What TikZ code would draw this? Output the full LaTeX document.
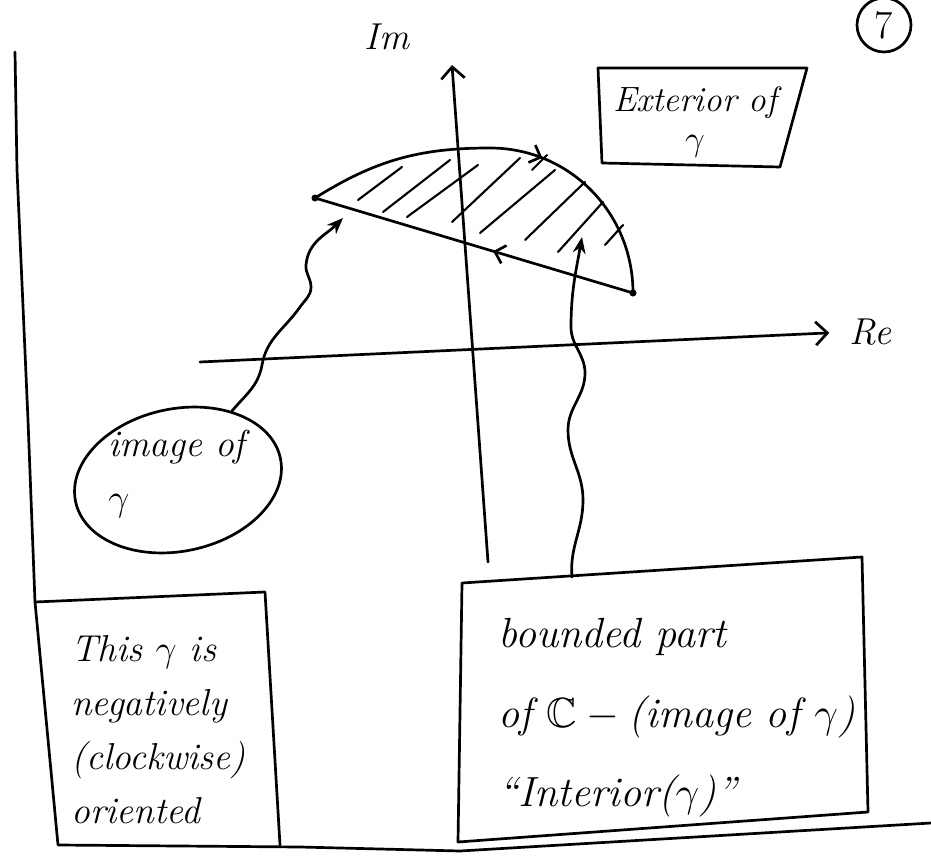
\RequirePackage{fix-cm}
\documentclass[tikz,border=0pt]{standalone}
\usepackage{amssymb}
\usetikzlibrary{arrows.meta, decorations.markings, shapes.geometric}

\begin{document}
\begin{tikzpicture}[x=0.03cm, y=0.03cm, line width=2.3pt, line cap=round, line join=round,
    note/.style={font=\fontsize{32}{46}\selectfont\itshape, align=left, inner sep=0pt},
    axis/.style={-{Straight Barb[length=10pt,width=20pt]}},
    wavy/.style={-{Stealth[length=14pt,width=11pt]}},
    hatch/.style={line width=1.8pt},
    midarrow/.style={postaction={decorate}, decoration={markings,
      mark=at position #1 with {\arrow{Straight Barb[length=8pt,width=16pt]}}}}]
  \useasboundingbox (0,0) rectangle (931,857);
  % frame
  \draw (15,805) -- (17,687) -- (28,437) -- (35,255) -- (58,12)
    -- (300,10) -- (460,6) -- (931,34);
  \node[draw, circle, minimum size=1.62cm, inner sep=0pt,
    font=\fontsize{34}{34}\selectfont] (pg) at (884,832) {7};
  % axes
  \node[note] (imlab) at (387,820) {Im};
  \node[note, anchor=west] (relab) at (848,525) {Re};
  \draw[axis] (488,295) -- (452,792);
  \draw[axis, shorten >=16pt] (200,495) -- (relab.west);
  % the curve gamma
  \coordinate (ptA) at (315,659);
  \coordinate (ptB) at (633,564);
  \draw[midarrow=0.58] (ptA) to[out=32,in=180] (490,709) to[out=0,in=90] (ptB);
  \draw[midarrow=0.44] (ptB) -- (ptA);
  \fill (ptA) circle (3pt);
  \fill (ptB) circle (3pt);
  \foreach \xa/\ya/\xb/\yb in {358/657/402/690, 383/645/450/697, 407/640/478/692,
      452/635/520/699, 532/687/547/702, 480/624/555/687, 525/617/585/675,
      558/605/603/655, 605/612/623/632}
    \draw[hatch] (\xa,\ya) -- (\xb,\yb);
  % image of gamma
  \node[draw, ellipse, rotate=12, minimum width=6.28cm, minimum height=4.27cm] (img) at (178,377) {};
  \node[note, anchor=north west] (imgtxt) at (107,428) {image of\\$\gamma$};
  \coordinate (tipA) at (343,639);
  \draw[wavy] (img.40) to[out=50,in=-100] (262,492) to[out=80,in=-125] (300,550)
    to[out=55,in=-90] (311,570) to[out=90,in=-95] (306,592) to[out=85,in=-135] (tipA);
  % exterior
  \draw (598,789) -- (807,789) -- (780,690) -- (602,694) -- cycle;
  \node[note, align=center, anchor=north, font=\fontsize{30}{34}\selectfont\itshape] (ext) at (695,772) {Exterior of\\$\gamma$};
  % orientation box
  \draw (35,255) -- (265,265) -- (280,12);
  \node[note, anchor=north west] (cw) at (70,223) {This $\gamma$ is\\negatively\\(clockwise)\\oriented};
  % interior box
  \draw (462,274) -- (862,300) -- (868,45) -- (458,15) -- cycle;
  \node[note, anchor=north west, font=\fontsize{36}{68}\selectfont\itshape] (bnd) at (497,240)
    {bounded part\\of $\mathbb{C}-{}$(image of $\gamma$)\\``Interior($\gamma$)''};
  \coordinate (bndtop) at (572,280);
  \coordinate (tipB) at (582,620);
  \draw[wavy] (bndtop) to[out=95,in=-90] (583,357) to[out=90,in=-90] (568,427)
    to[out=90,in=-90] (585,484) to[out=90,in=-90] (571,530) to[out=90,in=-100] (tipB);
\end{tikzpicture}
\end{document}
